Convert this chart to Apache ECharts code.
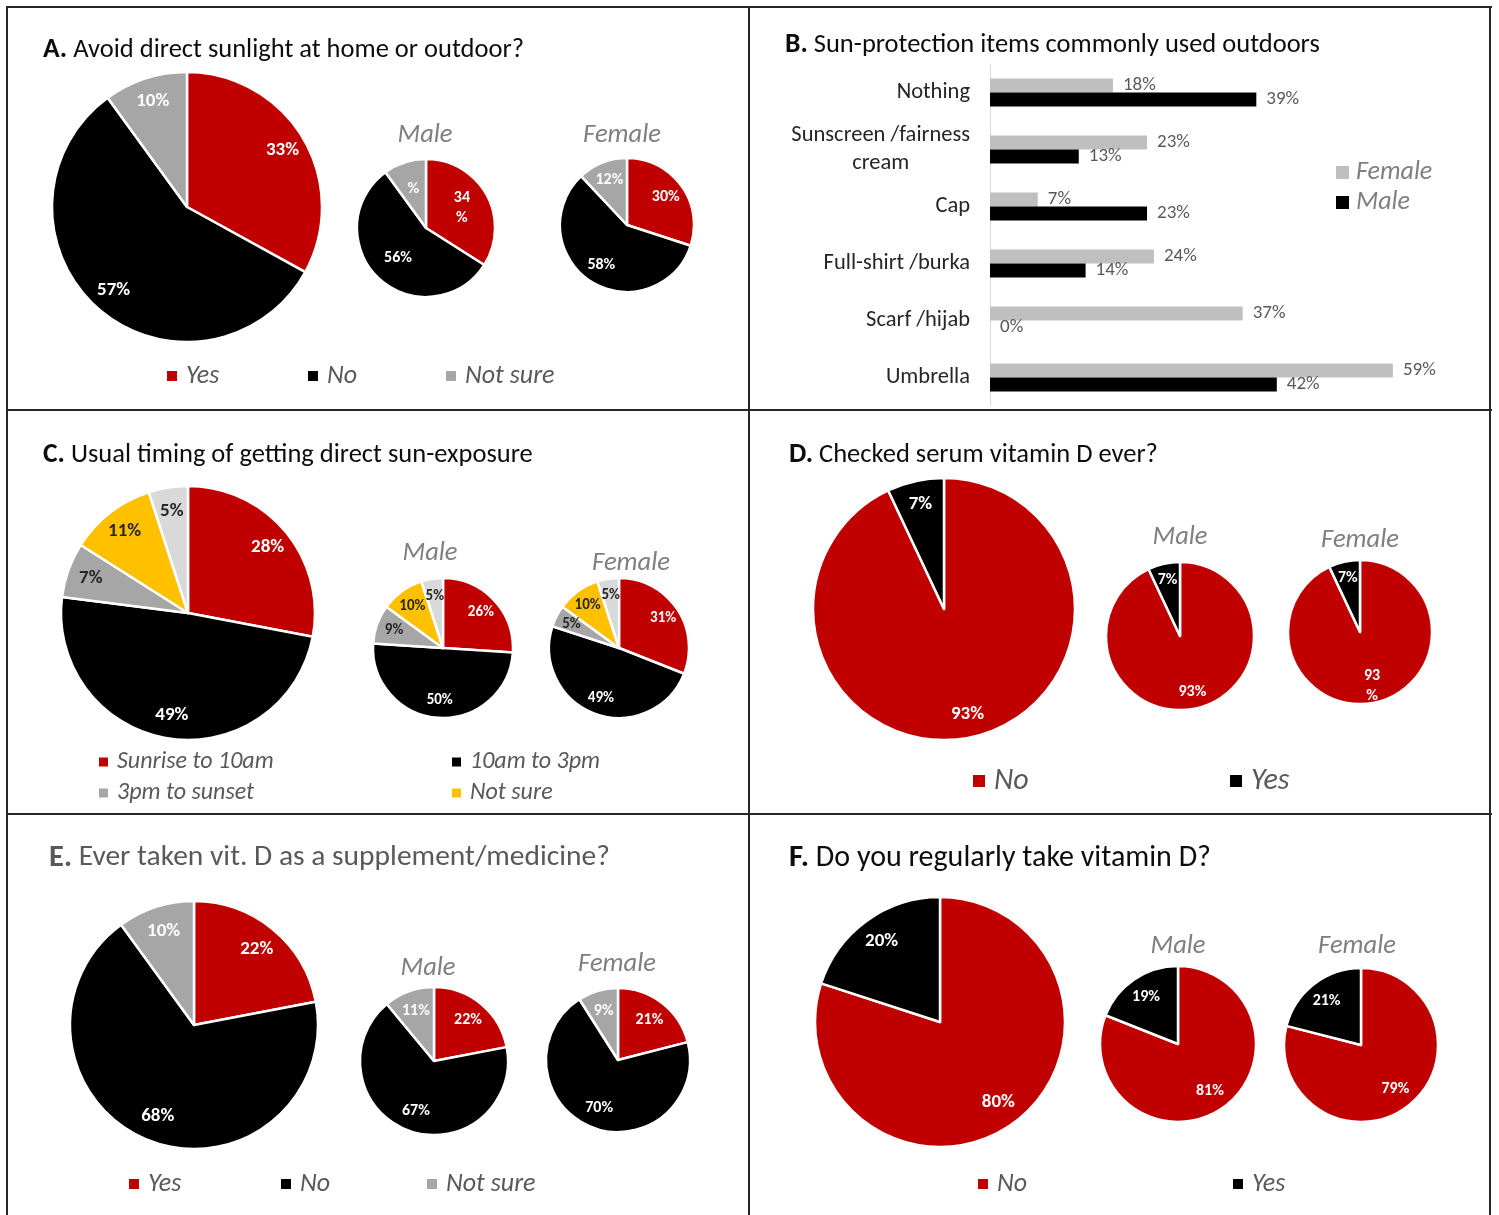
<!DOCTYPE html>
<html><head><meta charset="utf-8">
<script src="https://cdn.jsdelivr.net/npm/echarts@6/dist/echarts.min.js"></script>
<style>
html,body{margin:0;padding:0;background:#fff;width:1499px;height:1215px;overflow:hidden;}
.panel{position:absolute;}
.line{position:absolute;background:#262626;z-index:10;}
</style></head><body>
<script>
// ---------------- DATA ----------------
// Panel A: Avoid direct sunlight
const aCats = ['Yes', 'No', 'Not sure'];
const aAll = [33, 57, 10];
const aMale = [34, 56, 10];
const aFemale = [30, 58, 12];
const aMaleLabels = ['34\n%', '56%', '%'];

// Panel B: Sun-protection items
const bCats = ['Nothing', 'Sunscreen /fairness\ncream', 'Cap', 'Full-shirt /burka', 'Scarf /hijab', 'Umbrella'];
const bFemale = [18, 23, 7, 24, 37, 59];
const bMale = [39, 13, 23, 14, 0, 42];

// Panel C: Usual timing of sun exposure
const cCats = ['Sunrise to 10am', '10am to 3pm', '3pm to sunset', 'Not sure', 'Other'];
const cLegend = ['Sunrise to 10am', '10am to 3pm', '3pm to sunset', 'Not sure'];
const cAll = [28, 49, 7, 11, 5];
const cMale = [26, 50, 9, 10, 5];
const cFemale = [31, 49, 5, 10, 5];

// Panel D: Checked serum vitamin D ever
const dCats = ['No', 'Yes'];
const dAll = [93, 7];
const dMale = [93, 7];
const dFemale = [93, 7];
const dFemaleLabels = ['93\n%', '7%'];

// Panel E: Ever taken vit. D supplement
const eCats = ['Yes', 'No', 'Not sure'];
const eAll = [22, 68, 10];
const eMale = [22, 67, 11];
const eFemale = [21, 70, 9];

// Panel F: Regularly take vitamin D
const fCats = ['No', 'Yes'];
const fAll = [80, 20];
const fMale = [81, 19];
const fFemale = [79, 21];

// ---------------- STYLE ----------------
const FONT = "Carlito, Lato, 'Liberation Sans', sans-serif";
const RED = '#c00000', BLACK = '#000000', GRAY = '#a6a6a6', YELLOW = '#ffc000', LGRAY = '#d9d9d9', BARGRAY = '#bfbfbf';
const W = '#ffffff', DK = '#262626';
const BIG_LBL = 19, SMALL_LBL = 16;

function makePanel(x, y, w, h) {
  const d = document.createElement('div');
  d.className = 'panel';
  d.style.left = x + 'px'; d.style.top = y + 'px';
  d.style.width = w + 'px'; d.style.height = h + 'px';
  document.body.appendChild(d);
  return echarts.init(d, null, {renderer: 'canvas'});
}
function line(x, y, w, h) {
  const d = document.createElement('div');
  d.className = 'line';
  d.style.left = x + 'px'; d.style.top = y + 'px';
  d.style.width = w + 'px'; d.style.height = h + 'px';
  document.body.appendChild(d);
}

function pieSeries(cats, vals, colors, lblColors, center, r, frac, fontSize, labels) {
  const data = cats.map((c, i) => ({name: c, value: vals[i], itemStyle: {color: colors[i]}}));
  const ldata = cats.map((c, i) => ({
    name: c, value: vals[i],
    label: {color: lblColors[i], formatter: labels ? labels[i] : '{c}%'}
  }));
  return [
    {type: 'pie', center: center, radius: [0, r], startAngle: 90, clockwise: true, data: data,
     label: {show: false}, labelLine: {show: false},
     itemStyle: {borderColor: '#fff', borderWidth: 2.5}, emphasis: {disabled: true}, silent: true},
    {type: 'pie', center: center, radius: [r * (2 * frac - 1), r], startAngle: 90, clockwise: true, data: ldata,
     silent: true, legendHoverLink: false, emphasis: {disabled: true}, avoidLabelOverlap: false,
     labelLayout: {hideOverlap: false},
     itemStyle: {color: 'rgba(0,0,0,0)', borderWidth: 0},
     label: {show: true, position: 'inside', fontWeight: 'bold', fontSize: fontSize, fontFamily: FONT, lineHeight: fontSize + 4},
     labelLine: {show: false}}
  ];
}

function titleText(x, y, letter, text, size, color) {
  return {type: 'text', x: x, y: y, silent: true,
    style: {text: '{b|' + letter + '} ' + text, fill: color, fontSize: size, fontFamily: FONT,
      verticalAlign: 'middle', align: 'left',
      rich: {b: {fontWeight: 'bold', fontSize: size + 1, fill: color, fontFamily: FONT}}}};
}
function subText(x, y, text) {
  return {type: 'text', x: x, y: y, silent: true,
    style: {text: text, fill: '#7f7f7f', fontSize: 26.5, fontStyle: 'italic', fontFamily: FONT,
      align: 'center', verticalAlign: 'middle'}};
}
function legendItem(name, left, cy, size, fontSize, color) {
  const lh = fontSize + 4;
  return {data: [name], left: left, top: cy - lh / 2, padding: 0, icon: 'rect',
    itemWidth: size, itemHeight: size, selectedMode: false,
    itemStyle: {borderWidth: 0},
    textStyle: {fontStyle: 'italic', fontSize: fontSize, color: color || '#595959', fontFamily: FONT,
      lineHeight: lh, padding: [0, 0, 0, 4]}};
}

// ---------------- BORDERS ----------------
line(6, 6, 1486, 2);
line(6, 409, 1486, 2);
line(6, 813, 1486, 2);
line(6, 6, 2, 1209);
line(748, 6, 2, 1209);
line(1489, 6, 2, 1209);

// ---------------- PANEL A ----------------
const chA = makePanel(7, 7, 742, 403);
chA.setOption({
  animation: false,
  textStyle: {fontFamily: FONT},
  graphic: [
    titleText(36, 43, 'A.', 'Avoid direct sunlight at home or outdoor?', 26.5, '#0d0d0d'),
    subText(418, 128, 'Male'),
    subText(615, 128, 'Female')
  ],
  legend: [
    legendItem('Yes', 160, 369, 10, 26),
    legendItem('No', 301, 369, 10, 26),
    legendItem('Not sure', 439, 369, 10, 26)
  ],
  series: [].concat(
    pieSeries(aCats, aAll, [RED, BLACK, GRAY], [W, W, W], [180, 200], 135, 0.8, BIG_LBL),
    pieSeries(aCats, aMale, [RED, BLACK, GRAY], [W, W, W], [419, 221], 69, 0.55, SMALL_LBL, aMaleLabels),
    pieSeries(aCats, aFemale, [RED, BLACK, GRAY], [W, W, W], [620, 218], 67, 0.67, SMALL_LBL)
  )
});

// ---------------- PANEL B ----------------
const chB = makePanel(749, 7, 742, 403);
chB.setOption({
  animation: false,
  textStyle: {fontFamily: FONT},
  graphic: [
    titleText(36, 38, 'B.', 'Sun-protection items commonly used outdoors', 26.5, '#0d0d0d')
  ],
  legend: {
    data: ['Female', 'Male'], orient: 'vertical', left: 587, top: 150.5, padding: 0, itemGap: 0,
    icon: 'rect', itemWidth: 13, itemHeight: 13, selectedMode: false,
    textStyle: {fontStyle: 'italic', fontSize: 26, color: '#7f7f7f', fontFamily: FONT, lineHeight: 30, padding: [0, 0, 0, 2]}
  },
  grid: {left: 241, top: 57, width: 478, height: 342},
  xAxis: {type: 'value', min: 0, max: 70, show: false},
  yAxis: {
    type: 'category', data: bCats, inverse: true,
    axisLine: {lineStyle: {color: '#d9d9d9', width: 1}},
    axisTick: {show: false},
    axisLabel: {
      margin: 20, fontSize: 22.5, color: '#262626', lineHeight: 28, fontFamily: FONT,
      formatter: function (v) { return v.split('\n').map(s => '{c|' + s + '}').join('\n'); },
      rich: {c: {align: 'center', fontSize: 22.5, color: '#262626', lineHeight: 28, fontFamily: FONT}}
    }
  },
  series: [
    {name: 'Female', type: 'bar', data: bFemale, barWidth: 14, barGap: '0%', itemStyle: {color: BARGRAY},
     label: {show: true, position: 'right', distance: 10, formatter: '{c}%', color: '#595959', fontSize: 19, fontFamily: FONT}},
    {name: 'Male', type: 'bar', data: bMale, barWidth: 14, barGap: '0%', itemStyle: {color: BLACK},
     label: {show: true, position: 'right', distance: 10, formatter: '{c}%', color: '#595959', fontSize: 19, fontFamily: FONT}}
  ]
});

// ---------------- PANEL C ----------------
const chC = makePanel(7, 410, 742, 404);
const cColors = [RED, BLACK, GRAY, YELLOW, LGRAY];
const cLbl = [W, W, DK, DK, DK];
chC.setOption({
  animation: false,
  textStyle: {fontFamily: FONT},
  graphic: [
    titleText(36, 45, 'C.', 'Usual timing of getting direct sun-exposure', 26.5, '#0d0d0d'),
    subText(423, 143, 'Male'),
    subText(624, 153, 'Female')
  ],
  legend: [
    legendItem(cLegend[0], 92, 352, 9, 24),
    legendItem(cLegend[1], 445, 352, 9, 24),
    legendItem(cLegend[2], 92, 383, 9, 24),
    legendItem(cLegend[3], 445, 383, 9, 24)
  ],
  series: [].concat(
    pieSeries(cCats, cAll, cColors, cLbl, [181, 203], 127, 0.79, BIG_LBL),
    pieSeries(cCats, cMale, cColors, cLbl, [436, 238], 70, 0.7, 15),
    pieSeries(cCats, cFemale, cColors, cLbl, [612, 238], 70, 0.72, 15)
  )
});

// ---------------- PANEL D ----------------
const chD = makePanel(749, 410, 742, 404);
chD.setOption({
  animation: false,
  textStyle: {fontFamily: FONT},
  graphic: [
    titleText(40, 45, 'D.', 'Checked serum vitamin D ever?', 26.5, '#0d0d0d'),
    subText(431, 127, 'Male'),
    subText(611, 130, 'Female')
  ],
  legend: [
    legendItem('No', 224, 371, 12, 30),
    legendItem('Yes', 481, 371, 12, 30)
  ],
  series: [].concat(
    pieSeries(dCats, dAll, [RED, BLACK], [W, W], [195, 199], 131, 0.8, BIG_LBL),
    pieSeries(dCats, dMale, [RED, BLACK], [W, W], [431, 226], 74, 0.73, SMALL_LBL),
    pieSeries(dCats, dFemale, [RED, BLACK], [W, W], [611, 222], 72, 0.73, SMALL_LBL, dFemaleLabels)
  )
});

// ---------------- PANEL E ----------------
const chE = makePanel(7, 814, 742, 401);
chE.setOption({
  animation: false,
  textStyle: {fontFamily: FONT},
  graphic: [
    titleText(42, 44, 'E.', 'Ever taken vit. D as a supplement/medicine?', 29.5, '#595959'),
    subText(421, 154, 'Male'),
    subText(610, 150, 'Female')
  ],
  legend: [
    legendItem('Yes', 122, 370, 10, 26),
    legendItem('No', 274, 370, 10, 26),
    legendItem('Not sure', 420, 370, 10, 26)
  ],
  series: [].concat(
    pieSeries(eCats, eAll, [RED, BLACK, GRAY], [W, W, W], [187, 211], 124, 0.77, BIG_LBL),
    pieSeries(eCats, eMale, [RED, BLACK, GRAY], [W, W, W], [427, 247], 74, 0.68, SMALL_LBL),
    pieSeries(eCats, eFemale, [RED, BLACK, GRAY], [W, W, W], [611, 246], 72, 0.67, SMALL_LBL)
  )
});

// ---------------- PANEL F ----------------
const chF = makePanel(749, 814, 742, 401);
chF.setOption({
  animation: false,
  textStyle: {fontFamily: FONT},
  graphic: [
    titleText(40, 44, 'F.', 'Do you regularly take vitamin D?', 30, '#0d0d0d'),
    subText(429, 132, 'Male'),
    subText(608, 132, 'Female')
  ],
  legend: [
    legendItem('No', 229, 370, 10, 26),
    legendItem('Yes', 484, 370, 10, 26)
  ],
  series: [].concat(
    pieSeries(fCats, fAll, [RED, BLACK], [W, W], [191, 208], 125, 0.77, BIG_LBL),
    pieSeries(fCats, fMale, [RED, BLACK], [W, W], [429, 230], 78, 0.69, SMALL_LBL),
    pieSeries(fCats, fFemale, [RED, BLACK], [W, W], [612, 231], 77, 0.69, SMALL_LBL)
  )
});
</script>
</body></html>
